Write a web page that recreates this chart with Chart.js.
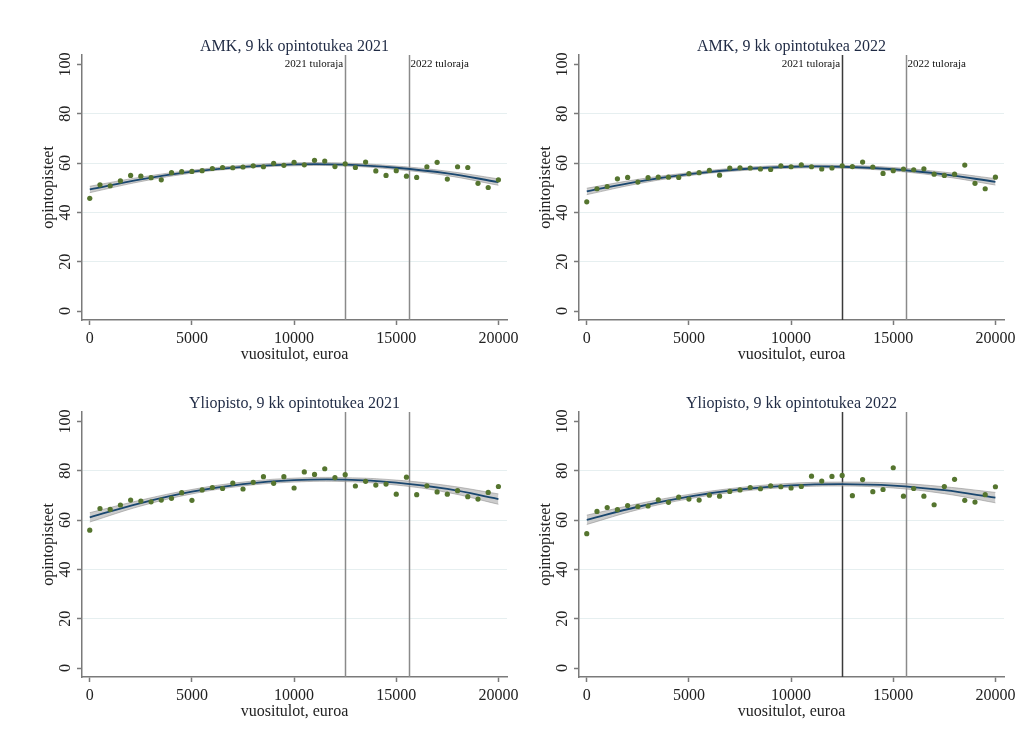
<!DOCTYPE html>
<html>
<head>
<meta charset="utf-8">
<script src="https://cdn.jsdelivr.net/npm/chart.js@4.4.1/dist/chart.umd.min.js"></script>
<style>
  body { margin: 0; background: #fff; }
  #wrap { position: relative; width: 1027px; height: 752px; }
  canvas { position: absolute; }
</style>
</head>
<body>
<div id="wrap">
  <canvas id="amk2021" width="530" height="372" style="left:0px;top:0px"></canvas>
  <canvas id="amk2022" width="530" height="372" style="left:497px;top:0px"></canvas>
  <canvas id="yo2021" width="530" height="372" style="left:0px;top:357px"></canvas>
  <canvas id="yo2022" width="530" height="372" style="left:497px;top:357px"></canvas>
</div>
<script>
'use strict';
// ---------------------- Data -----------------
const incomeBins = [0, 500, 1000, 1500, 2000, 2500, 3000, 3500, 4000, 4500, 5000, 5500, 6000, 6500, 7000, 7500,
  8000, 8500, 9000, 9500, 10000, 10500, 11000, 11500, 12000, 12500, 13000, 13500, 14000, 14500, 15000, 15500,
  16000, 16500, 17000, 17500, 18000, 18500, 19000, 19500, 20000];
const fitIncome = [0, 2500, 5000, 7500, 10000, 12500, 15000, 17500, 20000];
const xTicks = [0, 5000, 10000, 15000, 20000];
const yTicks = [0, 20, 40, 60, 80, 100];
const incomeLimits = [12500, 15600];
const limitNames = ['2021 tuloraja', '2022 tuloraja'];

// AMK 2021
const amk2021Points = [45.7, 51.2, 50.8, 52.8, 55.0, 54.7, 54.1, 53.2, 56.1, 56.5, 56.6, 56.9, 57.8, 58.2, 58.1, 58.4,
  58.9, 58.5, 59.9, 59.1, 60.3, 59.3, 61.1, 60.8, 58.6, 59.7, 58.2, 60.4, 56.8, 55.0, 56.9, 54.7,
  54.2, 58.5, 60.3, 53.5, 58.5, 58.2, 51.8, 50.1, 53.2];
const amk2021Fit = [49.3, 53.4, 56.5, 58.5, 59.5, 59.4, 58.1, 55.8, 52.3];
const amk2021Lower = [48.0, 52.5, 55.9, 57.9, 58.9, 58.8, 57.4, 54.9, 51.0];
const amk2021Upper = [50.6, 54.3, 57.1, 59.1, 60.1, 60.0, 58.8, 56.7, 53.6];

// AMK 2022
const amk2022Points = [44.3, 49.6, 50.5, 53.6, 54.2, 52.3, 54.1, 54.3, 54.3, 54.2, 55.7, 56.1, 57.0, 55.1, 58.0, 58.1,
  58.0, 57.6, 57.4, 58.9, 58.5, 59.3, 58.5, 57.6, 58.0, 58.9, 58.6, 60.4, 58.4, 55.8, 56.9, 57.6,
  57.3, 57.7, 55.5, 55.0, 55.5, 59.2, 51.8, 49.6, 54.3];
const amk2022Fit = [48.5, 52.5, 55.5, 57.5, 58.5, 58.5, 57.5, 55.4, 52.4];
const amk2022Lower = [47.2, 51.6, 54.9, 56.9, 57.9, 57.9, 56.8, 54.5, 51.1];
const amk2022Upper = [49.8, 53.4, 56.1, 58.1, 59.1, 59.1, 58.2, 56.3, 53.7];

// Yliopisto 2021
const yo2021Points = [55.9, 64.7, 64.3, 66.1, 68.1, 67.7, 67.4, 68.1, 68.8, 71.1, 68.0, 72.2, 73.2, 72.8, 75.0, 72.6,
  75.3, 77.6, 74.9, 77.6, 73.0, 79.5, 78.5, 80.8, 77.2, 78.4, 73.8, 75.7, 74.2, 74.6, 70.5, 77.4,
  70.3, 73.9, 71.4, 70.5, 71.9, 69.5, 68.5, 71.2, 73.6];
const yo2021Fit = [61.1, 66.9, 71.5, 74.6, 76.2, 76.4, 75.2, 72.6, 68.5];
const yo2021Lower = [59.2, 65.7, 70.6, 73.8, 75.4, 75.6, 74.2, 71.2, 66.4];
const yo2021Upper = [63.0, 68.1, 72.4, 75.4, 77.0, 77.2, 76.2, 74.0, 70.6];

// Yliopisto 2022
const yo2022Points = [54.5, 63.5, 65.1, 64.2, 65.9, 65.5, 65.7, 68.2, 67.2, 69.3, 68.5, 68.1, 70.1, 69.7, 71.6, 72.2,
  73.2, 72.7, 73.9, 73.5, 73.0, 73.6, 77.8, 75.8, 77.7, 78.1, 69.9, 76.4, 71.5, 72.4, 81.2, 69.7,
  72.8, 69.7, 66.2, 73.6, 76.5, 68.0, 67.3, 70.3, 73.5];
const yo2022Fit = [60.1, 65.4, 69.5, 72.4, 74.1, 74.6, 74.0, 72.1, 69.1];
const yo2022Lower = [58.2, 64.2, 68.6, 71.6, 73.3, 73.8, 73.0, 70.7, 67.0];
const yo2022Upper = [62.0, 66.6, 70.4, 73.2, 74.9, 75.4, 75.0, 73.5, 71.2];

// ---------------------- Styles -----------------
const serif = '"Liberation Serif", "Times New Roman", serif';
const axisColor = '#7a7a7a';
const textColor = '#222';

function toXY(xs, ys) {
  return xs.map((x, i) => ({ x: x, y: ys[i] }));
}

// titles, income limit lines and rotated y labels
const panelDecor = {
  id: 'panelDecor',
  beforeDatasetsDraw(chart, args, opts) {
    const { ctx, chartArea, scales } = chart;
    ctx.save();
    ctx.lineWidth = 1.5;
    incomeLimits.forEach((limit, i) => {
      ctx.strokeStyle = opts.lineColors[i];
      const px = Math.round(scales.x.getPixelForValue(limit)) + 0.5;
      ctx.beginPath();
      ctx.moveTo(px, chartArea.top);
      ctx.lineTo(px, chartArea.bottom);
      ctx.stroke();
    });
    ctx.restore();
  },
  afterDraw(chart, args, opts) {
    const { ctx, chartArea, scales } = chart;
    ctx.save();
    ctx.fillStyle = '#1f2a44';
    ctx.font = '16px ' + serif;
    ctx.textAlign = 'center';
    ctx.textBaseline = 'alphabetic';
    ctx.fillText(opts.title, (chartArea.left + chartArea.right) / 2, 51);

    if (opts.limitLabels) {
      ctx.fillStyle = '#111';
      ctx.font = '11px ' + serif;
      ctx.textBaseline = 'middle';
      const p0 = scales.x.getPixelForValue(incomeLimits[0]);
      const p1 = scales.x.getPixelForValue(incomeLimits[1]);
      ctx.textAlign = 'right';
      ctx.fillText(limitNames[0], p0 - 2, chartArea.top + 9);
      ctx.textAlign = 'left';
      ctx.fillText(limitNames[1], p1 + 2, chartArea.top + 9);
    }

    ctx.fillStyle = textColor;
    ctx.font = '16px ' + serif;
    ctx.textAlign = 'center';
    ctx.textBaseline = 'middle';
    for (const v of yTicks) {
      const py = scales.y.getPixelForValue(v);
      ctx.save();
      ctx.translate(66, py);
      ctx.rotate(-Math.PI / 2);
      ctx.fillText(String(v), 0, 0);
      ctx.restore();
    }
    ctx.restore();
  }
};

function makePanel(canvasId, title, points, fit, lower, upper, limitLabels, lineColors) {
  const context = document.getElementById(canvasId).getContext('2d');
  return new Chart(context, {
    type: 'scatter',
    data: {
      datasets: [{
        data: toXY(fitIncome, upper),
        showLine: true,
        tension: 0.4,
        borderColor: 'rgba(140,140,140,0.55)',
        borderWidth: 1,
        backgroundColor: 'rgba(170,170,170,0.6)',
        fill: '+1',
        pointRadius: 0,
        order: 4
      }, {
        data: toXY(fitIncome, lower),
        showLine: true,
        tension: 0.4,
        borderColor: 'rgba(140,140,140,0.55)',
        borderWidth: 1,
        pointRadius: 0,
        fill: false,
        order: 3
      }, {
        data: toXY(fitIncome, fit),
        showLine: true,
        tension: 0.4,
        borderColor: '#1a476f',
        borderWidth: 1.8,
        pointRadius: 0,
        fill: false,
        order: 2
      }, {
        data: toXY(incomeBins, points),
        showLine: false,
        pointRadius: 2.6,
        pointBorderWidth: 0,
        backgroundColor: '#55752f',
        order: 1
      }]
    },
    options: {
      responsive: false,
      animation: false,
      layout: { padding: { left: 0, top: 55, right: 23, bottom: 0 } },
      plugins: {
        legend: { display: false },
        tooltip: { enabled: false },
        panelDecor: { title: title, limitLabels: limitLabels, lineColors: lineColors }
      },
      scales: {
        x: {
          type: 'linear',
          min: -380,
          max: 20420,
          afterBuildTicks: (scale) => { scale.ticks = xTicks.map(v => ({ value: v })); },
          afterFit: (scale) => { scale.height = 52; },
          border: { color: axisColor, width: 1.5 },
          grid: { drawOnChartArea: false, drawTicks: true, tickLength: 5, tickColor: axisColor, tickWidth: 1.5 },
          ticks: { color: textColor, font: { family: serif, size: 16 }, padding: 4, maxRotation: 0, callback: v => String(v) },
          title: { display: true, text: 'vuositulot, euroa', color: textColor, font: { family: serif, size: 16 }, padding: { top: 0, bottom: 8 } }
        },
        y: {
          type: 'linear',
          min: -3.6,
          max: 103.8,
          afterBuildTicks: (scale) => { scale.ticks = yTicks.map(v => ({ value: v })); },
          afterFit: (scale) => { scale.width = 82; },
          border: { color: axisColor, width: 1.5 },
          grid: {
            color: (c) => (c.tick && (c.tick.value === 0 || c.tick.value === 100)) ? 'rgba(0,0,0,0)' : '#e6eff0',
            lineWidth: 1,
            drawTicks: true,
            tickLength: 5,
            tickColor: axisColor,
            tickWidth: 1.5
          },
          ticks: { display: false },
          title: { display: true, text: 'opintopisteet', color: textColor, font: { family: serif, size: 16 }, padding: { top: 39, bottom: 0 } }
        }
      }
    },
    plugins: [panelDecor]
  });
}

makePanel('amk2021', 'AMK, 9 kk opintotukea 2021', amk2021Points, amk2021Fit, amk2021Lower, amk2021Upper, true, ['#8a8a8a', '#8a8a8a']);
makePanel('amk2022', 'AMK, 9 kk opintotukea 2022', amk2022Points, amk2022Fit, amk2022Lower, amk2022Upper, true, ['#3a3a3a', '#8a8a8a']);
makePanel('yo2021', 'Yliopisto, 9 kk opintotukea 2021', yo2021Points, yo2021Fit, yo2021Lower, yo2021Upper, false, ['#8a8a8a', '#8a8a8a']);
makePanel('yo2022', 'Yliopisto, 9 kk opintotukea 2022', yo2022Points, yo2022Fit, yo2022Lower, yo2022Upper, false, ['#3a3a3a', '#8a8a8a']);
</script>
</body>
</html>
